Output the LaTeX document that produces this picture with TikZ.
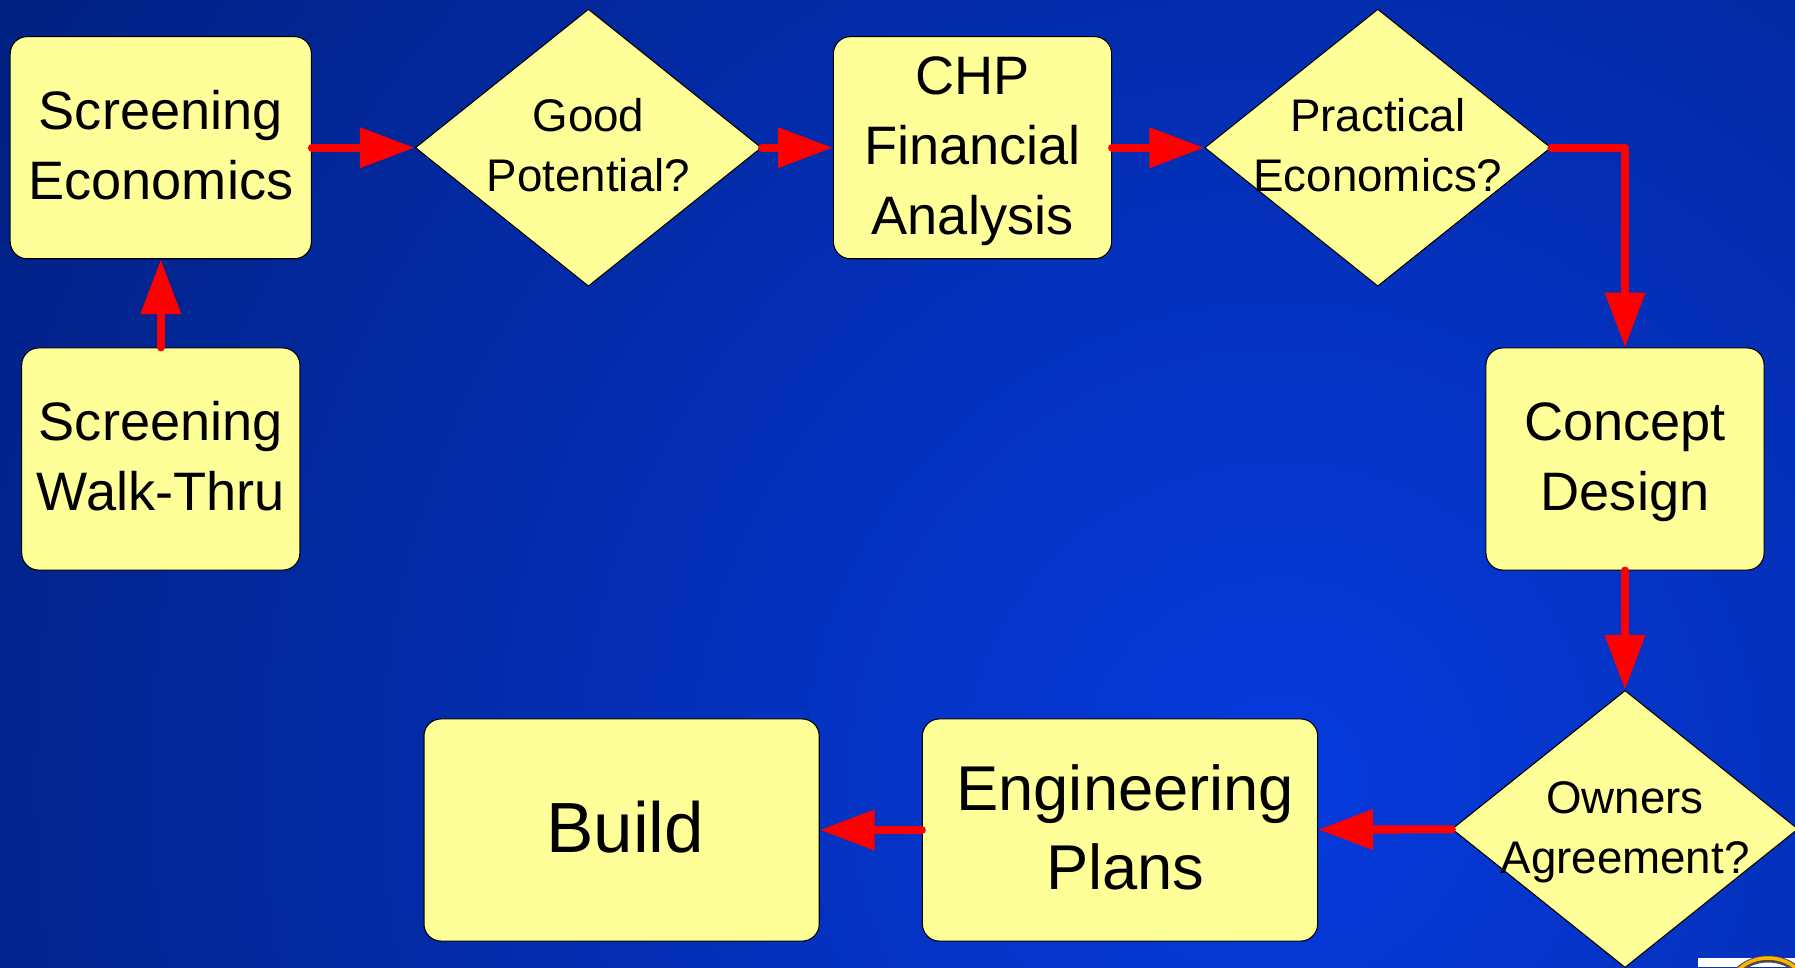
\documentclass[tikz,border=0pt]{standalone}
\usepackage{fontspec}
\setmainfont{Liberation Sans}
\usepackage{tikz}
\usetikzlibrary
  {
    arrows.meta,      % sized arrow heads
    shapes.geometric, % the decision diamonds
  }

\newcommand{\topline}{\rule{0pt}{.9em}}

\begin{document}
\begin{tikzpicture}
    [
      x=.01cm, y=-.01cm,
      % Styles
      even text/.style={execute at end node={\rule[-.28em]{0pt}{0pt}}},
      stepbox/.style={draw=black, line width=.3pt, fill=boxcolor, rounded corners=.17cm,
        inner sep=0pt, minimum height=2.22cm, align=center, text=black, even text},
      small step/.style={stepbox, minimum width=2.78cm, font=\fontsize{15.4}{19.9}\selectfont},
      large step/.style={stepbox, minimum width=3.95cm, font=\fontsize{18}{22.5}\selectfont},
      decision/.style={draw=black, line width=.3pt, fill=boxcolor, shape=diamond, inner sep=-.6cm,
        minimum width=3.46cm, minimum height=2.77cm, align=center, text=black, even text,
        font=\fontsize{13}{17}\selectfont},
      flow/.style={draw=flowcolor, line width=2.3pt, line cap=round, line join=round,
        -{Triangle[length=15.6pt, width=11pt]}}
    ]

    % Colors
    \definecolor{boxcolor}{RGB}{255,255,153}
    \definecolor{flowcolor}{RGB}{255,0,0}
    \definecolor{bgdark}{RGB}{0,27,110}
    \definecolor{bgbright}{RGB}{6,58,222}

    \useasboundingbox (0,0) rectangle (1795,967);

    % background
    \begin{scope}
      \clip (0,0) rectangle (1795,967);
      \fill [bgdark] (0,0) rectangle (1795,967);
      \shade [inner color=bgbright, outer color=bgdark] (1280,780) circle (1800);
      % corner of the logo
      \fill [white] (1698,958) rectangle (1795,967);
      \draw [black!70, line width=2pt] (1768,990) ellipse (38 and 31);
      \draw [orange!60!yellow, line width=1pt] (1768,990) ellipse (38 and 32);
    \end{scope}

    % top row
    \node [small step, minimum width=3.01cm] (screeneco) at (160.8,147.7) {\topline Screening\\Economics};
    \node [decision] (goodpot) at (588.4,147.7) {\topline Good\\Potential?};
    \node [small step] (chpfin) at (972.5,147.7) {\topline CHP\\Financial\\Analysis};
    \node [decision] (practical) at (1377.8,147.7) {\topline Practical\\Economics?};

    % sides
    \node [small step] (walkthru) at (160.8,459) {\topline Screening\\Walk-Thru};
    \node [small step] (concept) at (1625,459) {\topline Concept\\Design};

    % bottom row
    \node [decision] (owners) at (1625,829) {\topline Owners\\Agreement?};
    \node [large step] (engplans) at (1120,830) {\topline\hspace*{3pt}Engineering\\\hspace*{3pt}Plans};
    \node [large step, font=\fontsize{20.2}{24}\selectfont] (build) at (621.6,830) {\topline\hspace*{2pt}Build};

    % connectors
    \draw [flow] (walkthru) -- (screeneco);
    \draw [flow] (screeneco) -- (goodpot);
    \draw [flow] (goodpot) -- (chpfin);
    \draw [flow] (chpfin) -- (practical);
    \draw [flow] (practical) -| (concept);
    \draw [flow] (concept) -- (owners);
    \draw [flow] (owners) -- (engplans);
    \draw [flow] (engplans) -- (build);
\end{tikzpicture}
\end{document}
